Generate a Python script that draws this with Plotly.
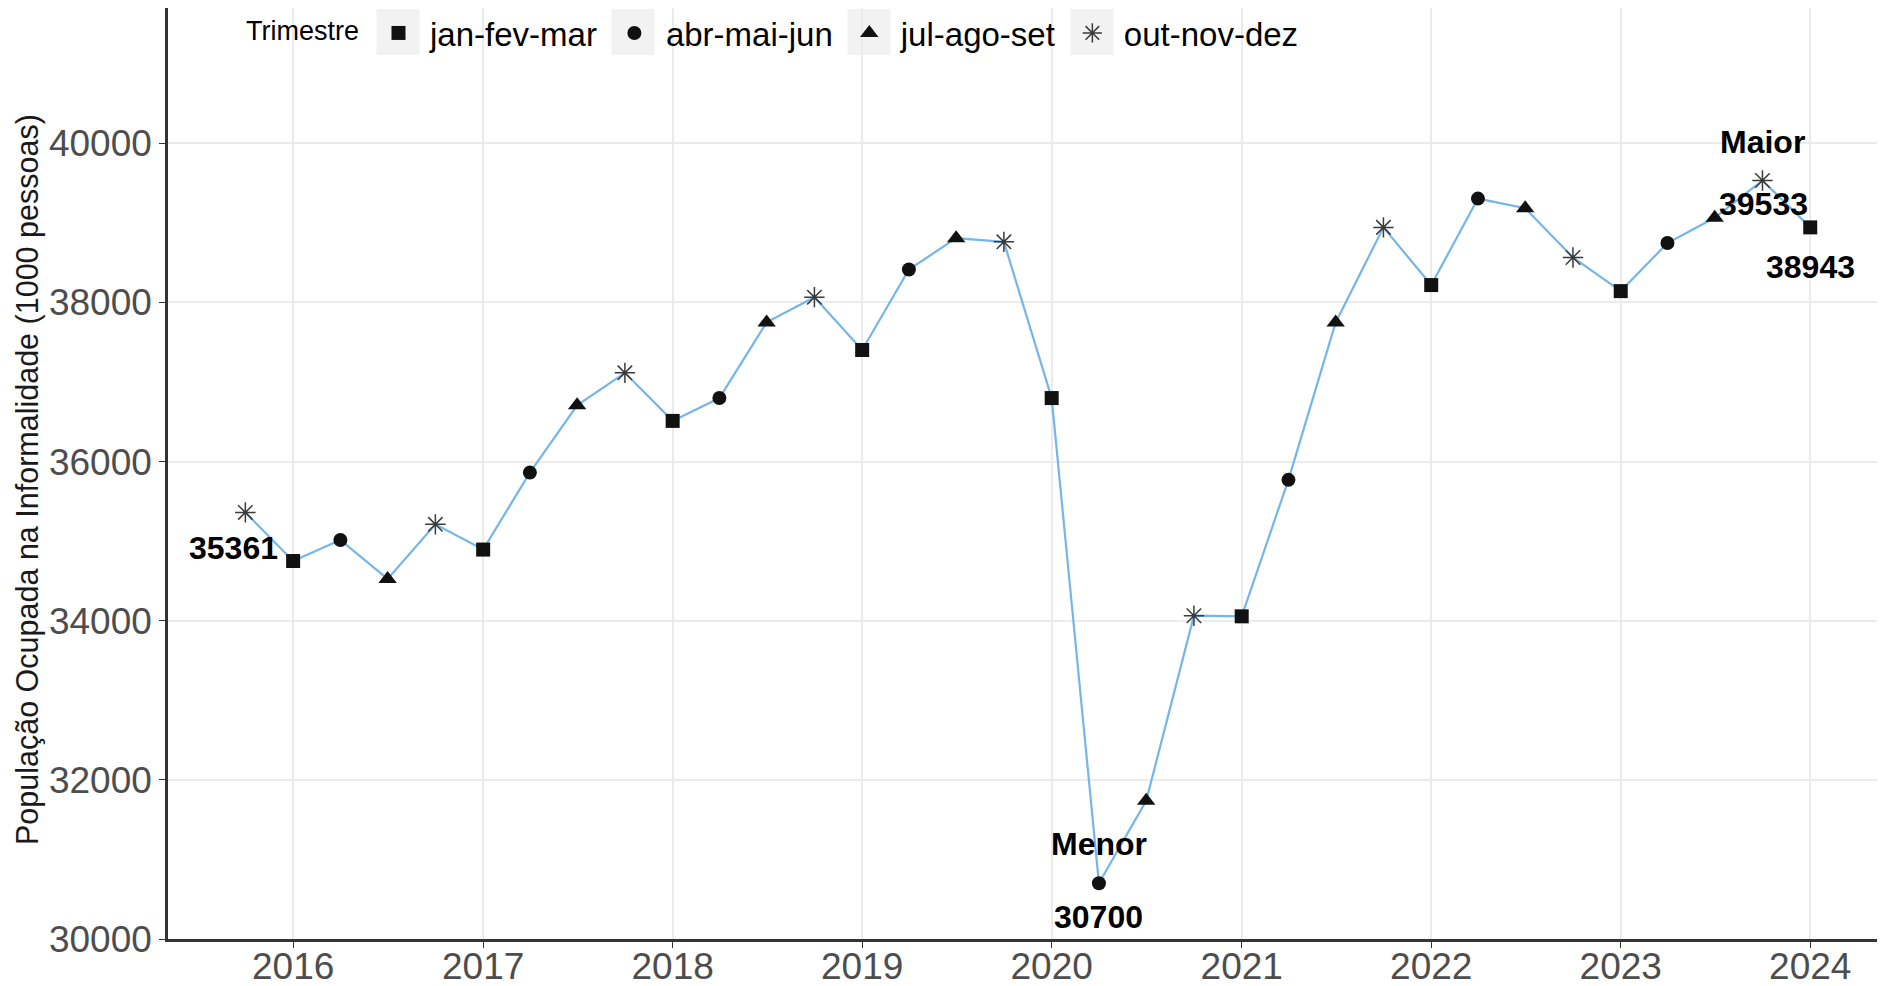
import plotly.graph_objects as go

# Dados: populacao ocupada na informalidade (1000 pessoas), por trimestre
periodos = [
    "2015-10-01",
    "2016-01-01", "2016-04-01", "2016-07-01", "2016-10-01",
    "2017-01-01", "2017-04-01", "2017-07-01", "2017-10-01",
    "2018-01-01", "2018-04-01", "2018-07-01", "2018-10-01",
    "2019-01-01", "2019-04-01", "2019-07-01", "2019-10-01",
    "2020-01-01", "2020-04-01", "2020-07-01", "2020-10-01",
    "2021-01-01", "2021-04-01", "2021-07-01", "2021-10-01",
    "2022-01-01", "2022-04-01", "2022-07-01", "2022-10-01",
    "2023-01-01", "2023-04-01", "2023-07-01", "2023-10-01",
    "2024-01-01",
]
trimestres = [
    "out-nov-dez",
    "jan-fev-mar", "abr-mai-jun", "jul-ago-set", "out-nov-dez",
    "jan-fev-mar", "abr-mai-jun", "jul-ago-set", "out-nov-dez",
    "jan-fev-mar", "abr-mai-jun", "jul-ago-set", "out-nov-dez",
    "jan-fev-mar", "abr-mai-jun", "jul-ago-set", "out-nov-dez",
    "jan-fev-mar", "abr-mai-jun", "jul-ago-set", "out-nov-dez",
    "jan-fev-mar", "abr-mai-jun", "jul-ago-set", "out-nov-dez",
    "jan-fev-mar", "abr-mai-jun", "jul-ago-set", "out-nov-dez",
    "jan-fev-mar", "abr-mai-jun", "jul-ago-set", "out-nov-dez",
    "jan-fev-mar",
]
informais = [
    35361,
    34750, 35015, 34525, 35211,
    34894, 35861, 36707, 37115,
    36511, 36798, 37749, 38066,
    37402, 38414, 38807, 38761,
    36798, 30700, 31737, 34063,
    34055, 35770, 37749, 38943,
    38218, 39305, 39184, 38565,
    38142, 38746, 39063, 39533,
    38943,
]

ordem_trim = ["jan-fev-mar", "abr-mai-jun", "jul-ago-set", "out-nov-dez"]
simbolos = ["square", "circle", "triangle-up", "asterisk-open"]
tamanhos = [14, 14, 16, 17]

FONTE = "Liberation Sans, Arial, sans-serif"

# geometria da figura (px); a pagina desloca a figura 8 px (margem do body)
W, H = 1885, 986
OFF = 8
ML, MR, MT, MB = 160, 8, 0, 55
PW, PH = W - ML - MR, H - MT - MB


def px_x(p):
    # posicao na tela -> fracao do papel
    return (p - OFF - ML) / PW


def px_y(p):
    return (H - MB - (p - OFF)) / PH


fig = go.Figure()

# linha
fig.add_trace(go.Scatter(
    x=periodos,
    y=informais,
    mode="lines",
    line=dict(color="#74b6ea", width=2.2),
    showlegend=False,
    hoverinfo="skip",
))

# pontos por trimestre
for trim, simb, tam in zip(ordem_trim, simbolos, tamanhos):
    xs = [p for p, t in zip(periodos, trimestres) if t == trim]
    ys = [v for v, t in zip(informais, trimestres) if t == trim]
    estrela = simb == "asterisk-open"
    cor = "#3a3a3a" if estrela else "#111111"
    fig.add_trace(go.Scatter(
        x=xs,
        y=ys,
        mode="markers",
        name=trim,
        marker=dict(
            symbol=simb,
            size=tam,
            color=cor,
            line=dict(color=cor, width=1.5 if estrela else 0),
        ),
    ))

# rotulos: primeiro, menor, maior e ultimo
i_min = informais.index(min(informais))
i_max = informais.index(max(informais))
rotulos = [
    (0, str(informais[0]), -12, -36),
    (i_min, "Menor", 0, 39),
    (i_min, str(informais[i_min]), 0, -34),
    (i_max, "Maior", 0, 38),
    (i_max, str(informais[i_max]), 1, -24),
    (len(informais) - 1, str(informais[-1]), 0, -40),
]
for i, txt, dx, dy in rotulos:
    fig.add_annotation(
        x=periodos[i],
        y=informais[i],
        text="<b>" + txt + "</b>",
        showarrow=False,
        xshift=dx,
        yshift=dy,
        font=dict(family=FONTE, size=32, color="#000000"),
    )

# titulo do eixo y
fig.add_annotation(
    xref="paper", yref="paper",
    x=px_x(27), y=px_y(480),
    text="População Ocupada na Informalidade (1000 pessoas)",
    textangle=-90,
    showarrow=False,
    xanchor="center", yanchor="middle",
    font=dict(family=FONTE, size=30.5, color="#1a1a1a"),
)

# fundo cinza das chaves da legenda
for xc in [398, 633, 869, 1092]:
    fig.add_shape(
        type="rect", xref="paper", yref="paper",
        x0=px_x(xc - 21.5), x1=px_x(xc + 21.5), y0=px_y(55), y1=px_y(9),
        fillcolor="#f2f2f2", line=dict(width=0), layer="below",
    )

fig.update_layout(
    width=W,
    height=H,
    margin=dict(l=ML, r=MR, t=MT, b=MB, autoexpand=False),
    paper_bgcolor="white",
    plot_bgcolor="white",
    font=dict(family=FONTE, color="#4d4d4d"),
    legend=dict(
        orientation="h",
        x=px_x(244),
        xanchor="left",
        y=px_y(33),
        yanchor="middle",
        bgcolor="rgba(255,255,255,0)",
        title=dict(text="Trimestre", font=dict(size=27, color="#000000"), side="left"),
        font=dict(size=33, color="#000000"),
        itemwidth=53,
    ),
    xaxis=dict(
        type="date",
        range=["2015-05-05", "2024-05-24"],
        dtick="M12",
        tick0="2016-01-01",
        tickformat="%Y",
        showgrid=True,
        gridcolor="#ebebeb",
        gridwidth=1.5,
        showline=True,
        linecolor="#333333",
        linewidth=2.5,
        ticks="outside",
        ticklen=6,
        tickcolor="#333333",
        tickfont=dict(size=37, color="#4d4d4d"),
        ticklabelstandoff=-13,
        automargin=False,
        zeroline=False,
    ),
    yaxis=dict(
        range=[30000, 41700],
        tickvals=[30000, 32000, 34000, 36000, 38000, 40000],
        tickformat="d",
        showgrid=True,
        gridcolor="#ebebeb",
        gridwidth=1.5,
        showline=True,
        linecolor="#333333",
        linewidth=2.5,
        ticks="outside",
        ticklen=6,
        tickcolor="#333333",
        tickfont=dict(size=37, color="#4d4d4d"),
        automargin=False,
        zeroline=False,
    ),
)

fig.write_html("out.html")
